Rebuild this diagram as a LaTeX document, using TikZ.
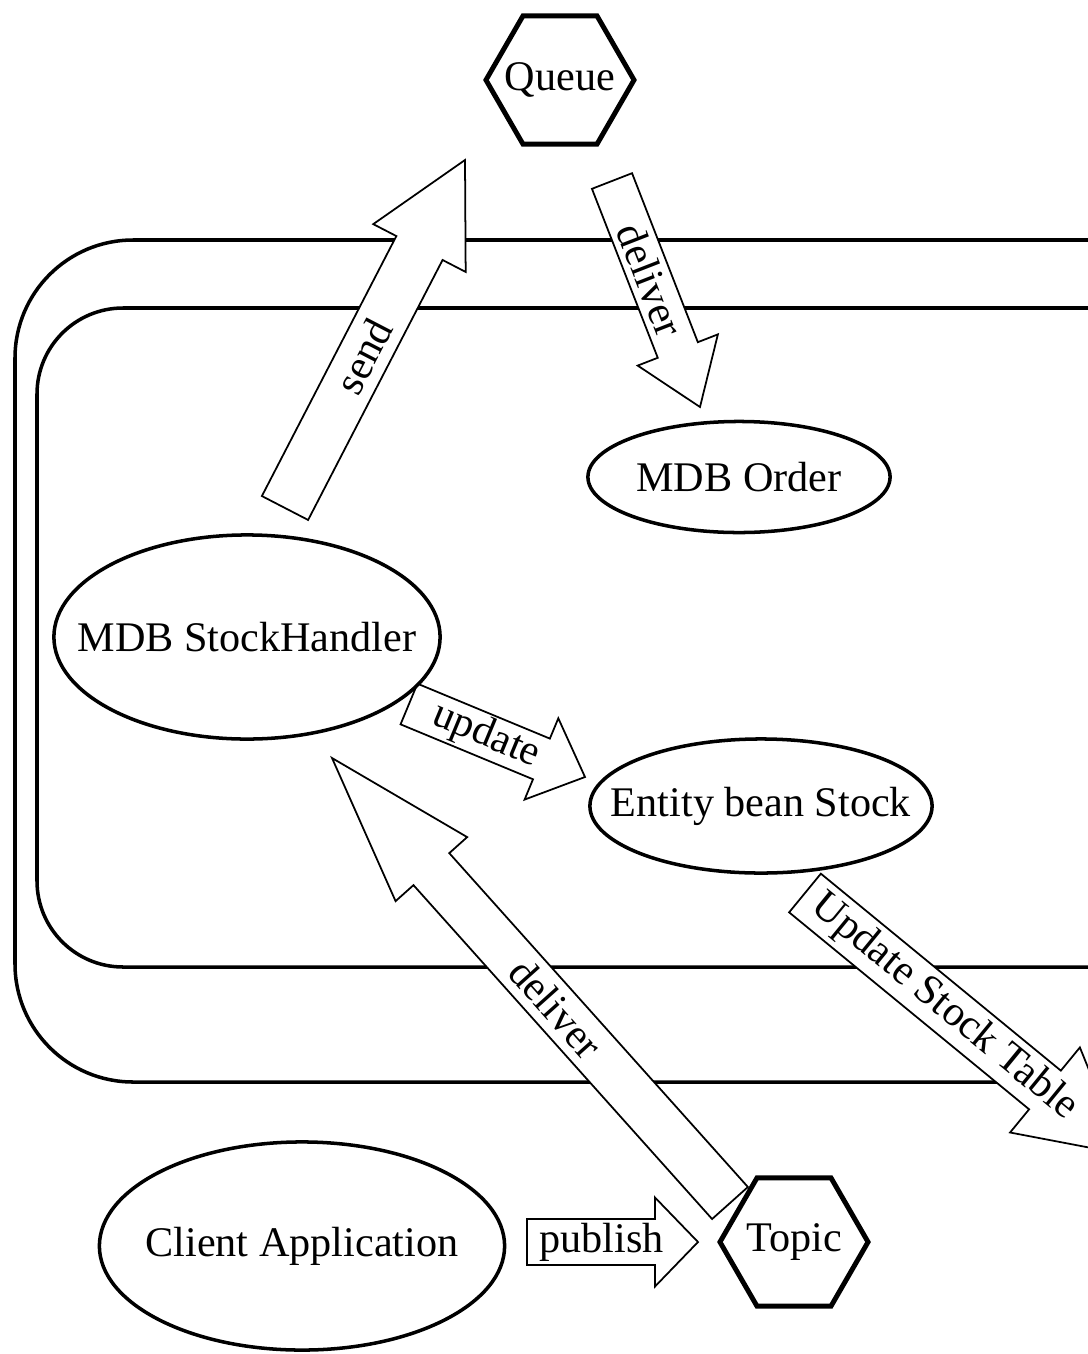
\documentclass[tikz,border=0pt]{standalone}
\usepackage{fontspec}
\setmainfont{Liberation Serif}
\usetikzlibrary{calc,shapes.geometric}
\newcommand{\pxl}{0.28453pt}

\begin{document}
\begin{tikzpicture}[x=0.01cm, y=-0.01cm,
  every node/.style={font=\fontsize{12}{14}\selectfont},
  narrowtext/.style={execute at begin node={\hbox to 0pt\bgroup\hss},
    execute at end node={\hss\egroup}},
  bean/.style={ellipse, draw, line width=1pt, fill=white, inner sep=0pt, narrowtext},
  dest/.style={regular polygon, regular polygon sides=6, draw, line width=1.4pt,
    fill=white, minimum size=1.48cm, inner sep=0pt, narrowtext},
  container/.style={line width=1pt, rounded corners=#1},
  fatarrow/.style={draw, fill=white, line width=0.5pt}]

  \useasboundingbox (0,0) rectangle (1088,1354);
  \clip (0,0) rectangle (1088,1354);

  % Container frames (run off the right edge)
  \draw[container=1.18cm] (15,240) rectangle (1300,1082);
  \draw[container=0.86cm] (37,308) rectangle (1300,967);

  % Block arrow macro
  % #1=tail, #2=tip, #3=shaft half width, #4=head half width, #5=head length (px), #6=label
  \newcommand{\fatarrow}[6]{%
    \path[fatarrow] let \p1=($(#2)-(#1)$), \n1={atan2(\y1,\x1)}, \n2={veclen(\x1,\y1)},
        \n3={\n2-#5*\pxl}, \n4={(\n1>90 || \n1<-90) ? \n1+180 : \n1} in
      ($(#1)+(\n1+90:#3*\pxl)$) -- ($(#1)+(\n1:\n3)+(\n1+90:#3*\pxl)$)
      -- ($(#1)+(\n1:\n3)+(\n1+90:#4*\pxl)$) -- (#2)
      -- ($(#1)+(\n1:\n3)+(\n1-90:#4*\pxl)$) -- ($(#1)+(\n1:\n3)+(\n1-90:#3*\pxl)$)
      -- ($(#1)+(\n1-90:#3*\pxl)$) -- cycle
      ($(#1)+(\n1:\n2/2-#5*\pxl/4)$) node[rotate=\n4, inner sep=0pt] {#6};
  }

  % Arrow ends
  \coordinate (send-tail) at (285,508);
  \coordinate (send-tip) at (465,160);
  \coordinate (qdeliver-tail) at (612,181);
  \coordinate (qdeliver-tip) at (700,407);
  \coordinate (update-tail) at (409,704);
  \coordinate (update-tip) at (585,777);
  \coordinate (table-tail) at (805,893);
  \coordinate (table-tip) at (1123,1154);
  \coordinate (tdeliver-tail) at (730,1203);
  \coordinate (tdeliver-tip) at (332,758);
  \coordinate (publish-tail) at (527,1242);
  \coordinate (publish-tip) at (698,1242);

  \fatarrow{send-tail}{send-tip}{26}{52}{99}{send}
  \fatarrow{qdeliver-tail}{qdeliver-tip}{21.5}{43}{61}{deliver}
  \fatarrow{update-tail}{update-tip}{22}{44}{47}{update}
  \fatarrow{table-tail}{table-tip}{25}{55}{100}{Update Stock Table}
  \fatarrow{tdeliver-tail}{tdeliver-tip}{24}{48}{149}{deliver}
  \fatarrow{publish-tail}{publish-tip}{23}{44.5}{43}{publish}

  % Destinations
  \node[dest] (queue) at (560,80) {Queue};
  \node[dest] (topic) at (794,1242) {Topic};

  % Beans and client
  \node[bean, minimum width=3.02cm, minimum height=1.11cm] (order) at (739,477) {MDB Order};
  \node[bean, minimum width=3.86cm, minimum height=2.04cm] (handler) at (247,637) {MDB StockHandler};
  \node[bean, minimum width=3.42cm, minimum height=1.34cm] (entity) at (761,806) {Entity bean Stock};
  \node[bean, minimum width=4.05cm, minimum height=2.08cm] (client) at (302,1246) {Client Application};
\end{tikzpicture}
\end{document}
